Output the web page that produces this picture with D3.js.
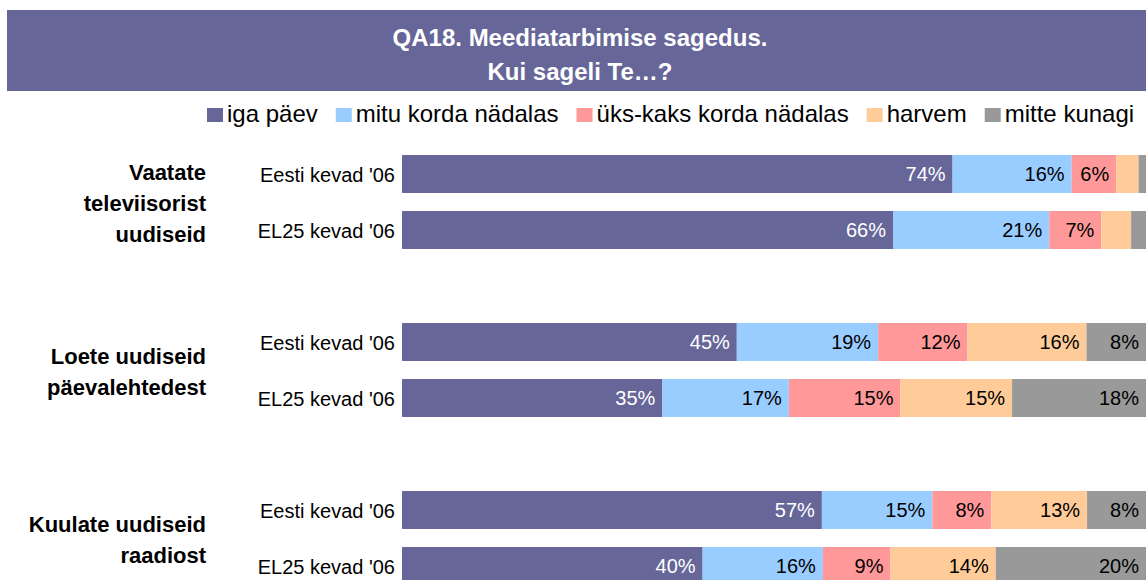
<!DOCTYPE html>
<html>
<head>
<meta charset="utf-8">
<script src="https://cdn.jsdelivr.net/npm/d3@7/dist/d3.min.js"></script>
<style>
  html, body { margin: 0; padding: 0; background: #fff; }
  svg { display: block; font-family: Arial, "Liberation Sans", sans-serif; }
</style>
</head>
<body>
<svg id="chart" width="1146" height="580"></svg>
<script>
// ---- Data ----
const titleLines = ["QA18. Meediatarbimise sagedus.", "Kui sageli Te…?"];
const groups = ["tv", "paper", "radio"];
const groupLabels = [
  ["Vaatate", "televiisorist", "uudiseid"],
  ["Loete uudiseid", "päevalehtedest"],
  ["Kuulate uudiseid", "raadiost"]
];
const rows = ["Eesti kevad '06", "EL25 kevad '06"];
const series = ["iga päev", "mitu korda nädalas", "üks-kaks korda nädalas", "harvem", "mitte kunagi"];
const colors = ["#666699", "#99CCFF", "#FF9999", "#FFCC99", "#999999"];
// values per bar: order = tv/Eesti, tv/EL25, paper/Eesti, paper/EL25, radio/Eesti, radio/EL25
const igaPaev   = [74, 66, 45, 35, 57, 40];
const mituKorda = [16, 21, 19, 17, 15, 16];
const yksKaks   = [6, 7, 12, 15, 8, 9];
const harvem    = [3, 4, 16, 15, 13, 14];
const mitteKunagi = [1, 2, 8, 18, 8, 20];

const seriesValues = [igaPaev, mituKorda, yksKaks, harvem, mitteKunagi];

const table = [];
groups.forEach((g, gi) => {
  rows.forEach((r, ri) => {
    const idx = gi * rows.length + ri;
    const rec = { group: g, row: r };
    series.forEach((s, si) => { rec[s] = seriesValues[si][idx]; });
    table.push(rec);
  });
});

// ---- Layout ----
const svg = d3.select("#chart");
const W = 1146;

// title banner
svg.append("rect").attr("x", 7).attr("y", 10).attr("width", W - 7).attr("height", 81).attr("fill", "#666699");
svg.selectAll("text.title").data(titleLines).join("text")
  .attr("class", "title")
  .attr("x", 580).attr("y", (d, i) => 46 + i * 34)
  .attr("text-anchor", "middle")
  .attr("fill", "#fff").attr("font-weight", "bold").attr("font-size", 24)
  .text(d => d);

// legend
const legend = svg.append("g");
let lx = 207;
series.forEach((s, i) => {
  legend.append("rect").attr("x", lx).attr("y", 108).attr("width", 16).attr("height", 14).attr("fill", colors[i]);
  const t = legend.append("text").attr("x", lx + 20).attr("y", 122)
    .attr("font-size", 24).attr("fill", "#000").text(s);
  lx += 20 + t.node().getComputedTextLength() + 18;
});

// scales
const x = d3.scaleLinear().domain([0, 1]).range([402, 1146]);
const y0 = d3.scaleBand().domain(groups).range([155, 155 + 168 * groups.length]).padding(0);
const y1 = d3.scaleBand().domain(rows).range([0, 94]).paddingInner(18 / 56).paddingOuter(0);
const color = d3.scaleOrdinal().domain(series).range(colors);

const stack = d3.stack().keys(series).offset(d3.stackOffsetExpand);
const stacked = stack(table);

// group labels
groups.forEach((g, gi) => {
  const lines = groupLabels[gi];
  const c = y0(g) + 47;
  lines.forEach((line, li) => {
    svg.append("text")
      .attr("x", 206)
      .attr("y", c + 9 + (li - (lines.length - 1) / 2) * 31)
      .attr("text-anchor", "end")
      .attr("font-weight", "bold").attr("font-size", 22).attr("fill", "#000")
      .text(line);
  });
});

// row labels
svg.selectAll("text.rowlab").data(table).join("text")
  .attr("class", "rowlab")
  .attr("x", 395)
  .attr("y", d => y0(d.group) + y1(d.row) + y1.bandwidth() / 2 + 8)
  .attr("text-anchor", "end").attr("font-size", 20).attr("fill", "#000")
  .text(d => d.row);

// bars
const layers = svg.selectAll("g.layer").data(stacked).join("g")
  .attr("class", "layer")
  .attr("fill", d => color(d.key));

layers.selectAll("rect").data(d => d).join("rect")
  .attr("x", d => x(d[0]))
  .attr("width", d => x(d[1]) - x(d[0]))
  .attr("y", d => y0(d.data.group) + y1(d.data.row))
  .attr("height", y1.bandwidth());

// bar labels
stacked.forEach((layer, si) => {
  svg.append("g").selectAll("text").data(layer.filter(d => d.data[layer.key] >= 5)).join("text")
    .attr("x", d => x(d[1]) - 7)
    .attr("y", d => y0(d.data.group) + y1(d.data.row) + y1.bandwidth() / 2 + 7)
    .attr("text-anchor", "end").attr("font-size", 20)
    .attr("fill", si === 0 ? "#fff" : "#000")
    .text(d => d.data[layer.key] + "%");
});
</script>
</body>
</html>
